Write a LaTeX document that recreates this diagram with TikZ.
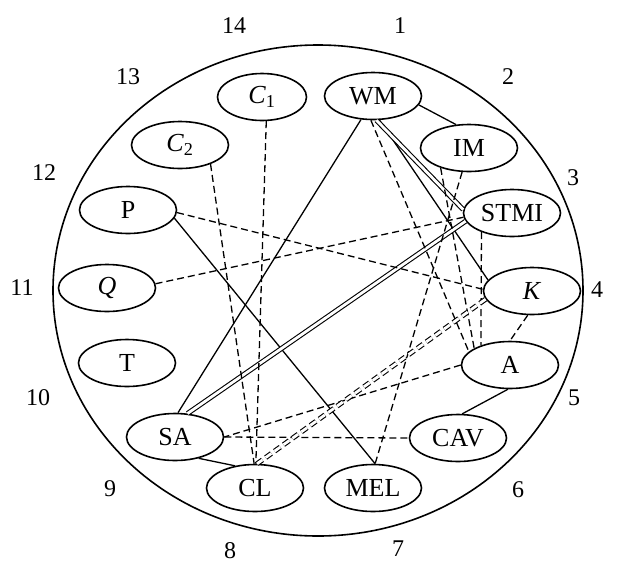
\documentclass[tikz,border=0pt]{standalone}
\usepackage{fontspec}
\setmainfont{Liberation Serif}
\usetikzlibrary{shapes.geometric}
\begin{document}
\begin{tikzpicture}[x=1pt,y=-1pt,
  vert/.style={draw, ellipse, line width=1.6pt, minimum width=97pt,
    minimum height=47pt, inner sep=0pt, font=\fontsize{26}{30}\selectfont},
  num/.style={inner sep=0pt, font=\fontsize{24}{28}\selectfont},
  link/.style={line width=1.3pt},
  dlink/.style={line width=1.3pt, dash pattern=on 7pt off 4pt},
  twin/.style={double, double distance=2.8pt, line width=1.1pt},
]
\useasboundingbox (0,0) rectangle (618,563);

% outer ring
\draw[line width=1.6pt] (318,290.5) ellipse [x radius=265, y radius=245.5];

% position numbers around the ring
\node[num] (n1)  at (400,26)  {1};
\node[num] (n2)  at (508,77)  {2};
\node[num] (n3)  at (573,178) {3};
\node[num] (n4)  at (597,290) {4};
\node[num] (n5)  at (574,398) {5};
\node[num] (n6)  at (518,490) {6};
\node[num] (n7)  at (398,549) {7};
\node[num] (n8)  at (230,551) {8};
\node[num] (n9)  at (110,489) {9};
\node[num] (n10) at (38,398)  {10};
\node[num] (n11) at (22,288)  {11};
\node[num] (n12) at (44,173)  {12};
\node[num] (n13) at (128,77)  {13};
\node[num] (n14) at (234,26)  {14};

% vertices
\node[vert] (WM)   at (373,96)  {WM};
\node[vert, minimum width=89pt] (C1) at (262,97) {\textit{C}\textsubscript{1}};
\node[vert] (C2)   at (180,145) {\textit{C}\textsubscript{2}};
\node[vert] (P)    at (128,210) {P};
\node[vert] (Q)    at (107,288) {\textit{Q}};
\node[vert] (T)    at (127,363) {T};
\node[vert] (SA)   at (175,437) {SA};
\node[vert] (CL)   at (255,488) {CL};
\node[vert] (MEL)  at (373,488) {MEL};
\node[vert] (CAV)  at (458,438) {CAV};
\node[vert] (A)    at (510,365) {A};
\node[vert] (K)    at (532,291) {\textit{K}};
\node[vert] (STMI) at (512,213) {STMI};
\node[vert] (IM)   at (469,148) {IM};

% solid links
\draw[link] (WM.349) -- (IM.119);
\draw[link] (WM.243) -- (SA.83);
\draw[link] (WM.285) -- (K.166);
\draw[link] (P.350) -- (MEL.85);
\draw[link] (A.265) -- (CAV.80);
\draw[link] (SA.318) -- (CL.132);

% double solid links
\draw[twin] (WM.278) -- (STMI.176);
\draw[twin] (STMI.190) -- (SA.62);

% dashed links
\draw[dlink] (C1.280) -- (CL.88);
\draw[dlink] (C2.328) -- (CL.92);
\draw[dlink] (P.357) -- (K.178);
\draw[dlink] (Q.5) -- (STMI.185);
\draw[dlink] (WM.265) -- (A.162);
\draw[dlink] (IM.215) -- (A.155);
\draw[dlink] (IM.254) -- (MEL.85);
\draw[dlink] (STMI.212) -- (A.146);
\draw[dlink] (K.260) -- (A.90);
\draw[dlink] (A.180) -- (SA.0);
\draw[dlink] (SA.0) -- (CAV.180);

% double dashed link
\draw[dlink, twin] (K.190) -- (CL.85);
\end{tikzpicture}
\end{document}
